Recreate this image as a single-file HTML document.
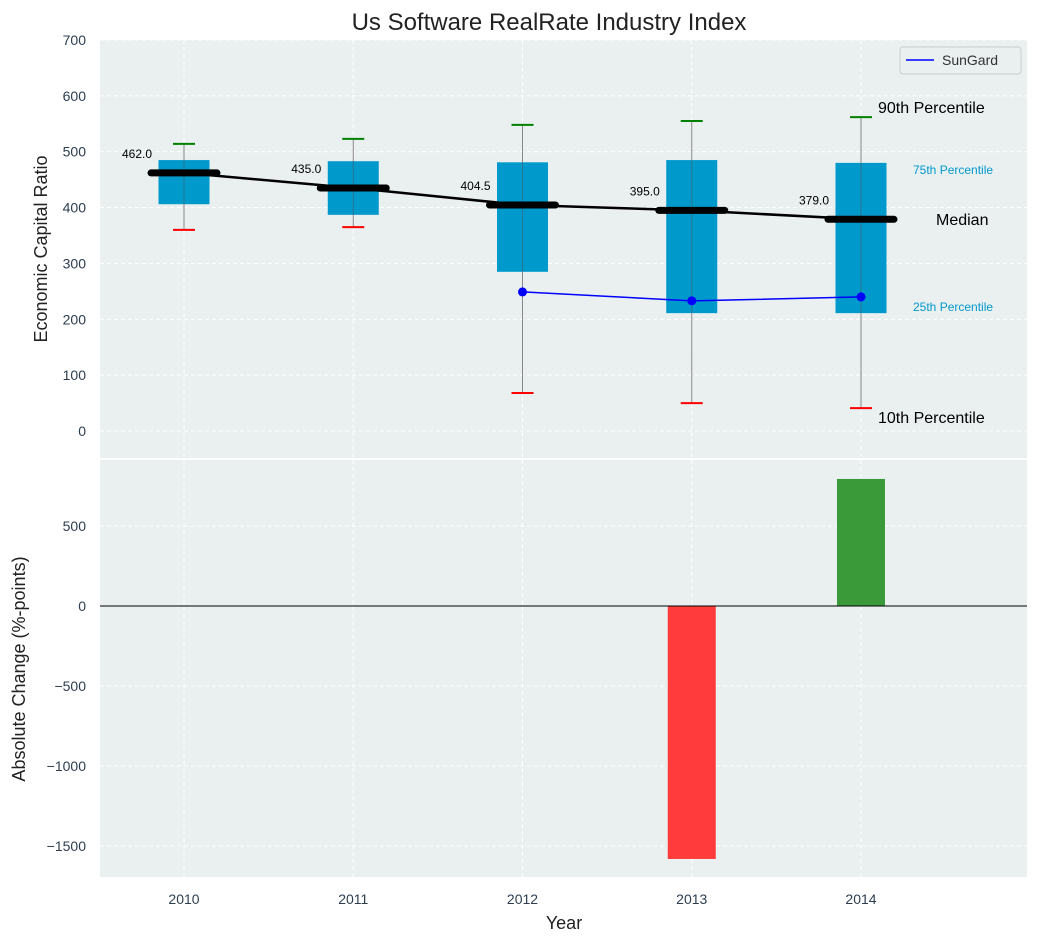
<!DOCTYPE html>
<html><head><meta charset="utf-8"><style>
body{margin:0;background:#fff;}
text{font-family:"Liberation Sans","DejaVu Sans",sans-serif;}
</style></head><body>
<svg id="chart" width="1039" height="942" xmlns="http://www.w3.org/2000/svg"></svg>
<script>
const years=[2010,2011,2012,2013,2014];
const p10=[360,365,68,50,41];
const q1=[406,387,285,211,211];
const medians=[462,435,404.5,395,379];
const q3=[485,483,481,485,480];
const p90=[514,523,548,555,562];
const sungardYears=[2012,2013,2014];
const sungard=[249,233,240];
const changeYears=[2013,2014];
const changes=[-1581,794];
const topTicks=[0,100,200,300,400,500,600,700];
const botTicks=[-1500,-1000,-500,0,500];

const svg=document.getElementById('chart');
const NS='http://www.w3.org/2000/svg';
function mk(t,a,txt,name){const e=document.createElementNS(NS,t);for(const k in a)e.setAttribute(k,a[k]);if(txt!==undefined)e.textContent=txt;


svg.appendChild(e);return e;}
const L=100,R=1027;
const TICK='#2c3e50';
const x=i=>184+(i)*169.25;
const xv=yr=>x(yr-2010);
const yT=v=>431-v*0.5586;
const yB=v=>606-v*0.16;
mk('text',{x:549,y:30,'text-anchor':'middle','font-size':24,fill:'#222'},'Us Software RealRate Industry Index','chart-title');
mk('rect',{x:L,y:40,width:R-L,height:418,fill:'#eaeff0'},undefined,'top-plot-bg');
mk('rect',{x:L,y:460,width:R-L,height:417,fill:'#eaeff0'},undefined,'bottom-plot-bg');
years.forEach((yr,i)=>{
 mk('line',{x1:x(i),x2:x(i),y1:40,y2:458,stroke:'#fff','stroke-dasharray':'4,3'},undefined,'top-x-grid');
 mk('line',{x1:x(i),x2:x(i),y1:460,y2:877,stroke:'#fff','stroke-dasharray':'4,3'},undefined,'bottom-x-grid');
 mk('text',{x:x(i),y:904,'text-anchor':'middle','font-size':14,fill:TICK},yr,'x-tick-label');
});
topTicks.forEach(v=>{
 mk('line',{x1:L,x2:R,y1:yT(v),y2:yT(v),stroke:'#fff','stroke-dasharray':'4,3'},undefined,'top-y-grid');
 mk('text',{x:86,y:yT(v)+5,'text-anchor':'end','font-size':14,fill:TICK},v,'top-y-tick-label');
});
botTicks.forEach(v=>{
 mk('line',{x1:L,x2:R,y1:yB(v),y2:yB(v),stroke:'#fff','stroke-dasharray':'4,3'},undefined,'bottom-y-grid');
 mk('text',{x:86,y:yB(v)+5,'text-anchor':'end','font-size':14,fill:TICK},String(v).replace('-','\u2212'),'bottom-y-tick-label');
});
years.forEach((yr,i)=>{
 const cx=x(i);
 mk('line',{x1:cx,x2:cx,y1:yT(p90[i]),y2:yT(p10[i]),stroke:'#888','stroke-width':1},undefined,'whisker');
 mk('rect',{x:cx-25.5,y:yT(q3[i]),width:51,height:yT(q1[i])-yT(q3[i]),fill:'#0099cc'},undefined,'iqr-box');
 mk('line',{x1:cx,x2:cx,y1:yT(q3[i]),y2:yT(q1[i]),stroke:'#555','stroke-width':1,opacity:0.5},undefined,'whisker-inner');
 mk('line',{x1:cx-11,x2:cx+11,y1:yT(p90[i]),y2:yT(p90[i]),stroke:'green','stroke-width':2},undefined,'p90-cap');
 mk('line',{x1:cx-11,x2:cx+11,y1:yT(p10[i]),y2:yT(p10[i]),stroke:'red','stroke-width':2},undefined,'p10-cap');
 mk('line',{x1:cx-33,x2:cx+33,y1:yT(medians[i]),y2:yT(medians[i]),stroke:'#000','stroke-width':7,'stroke-linecap':'round'},undefined,'median-bar');
 mk('text',{x:cx-32,y:yT(medians[i])-15,'text-anchor':'end','font-size':12,fill:'#000'},medians[i].toFixed(1),'median-label');
});
mk('polyline',{points:years.map((y,i)=>x(i)+','+yT(medians[i])).join(' '),fill:'none',stroke:'#000','stroke-width':2.5},undefined,'median-line');
mk('polyline',{points:sungardYears.map((y,i)=>xv(y)+','+yT(sungard[i])).join(' '),fill:'none',stroke:'blue','stroke-width':1.5},undefined,'sungard-line');
sungardYears.forEach((y,i)=>mk('circle',{cx:xv(y),cy:yT(sungard[i]),r:4.5,fill:'blue'},undefined,'sungard-point'));
mk('text',{x:878,y:113,'font-size':16,fill:'#000'},'90th Percentile','p90-annotation');
mk('text',{x:913,y:174,'font-size':12,fill:'#0099cc'},'75th Percentile','p75-annotation');
mk('text',{x:936,y:225,'font-size':16,fill:'#000'},'Median','median-annotation');
mk('text',{x:913,y:311,'font-size':12,fill:'#0099cc'},'25th Percentile','p25-annotation');
mk('text',{x:878,y:423,'font-size':16,fill:'#000'},'10th Percentile','p10-annotation');
mk('rect',{x:900,y:47,width:121,height:27,fill:'#eaeff0',stroke:'#ccc',rx:3},undefined,'legend-box');
mk('line',{x1:906,x2:934,y1:60,y2:60,stroke:'blue','stroke-width':1.5},undefined,'legend-line');
mk('text',{x:942,y:65,'font-size':14,fill:'#333'},'SunGard','legend-label');
changeYears.forEach((y,i)=>{const v=changes[i];
 mk('rect',{x:xv(y)-24,y:Math.min(yB(0),yB(v)),width:48,height:Math.abs(yB(v)-yB(0)),fill:v<0?'#ff3b3b':'#3a9a3a'},undefined,'change-bar');});
mk('line',{x1:L,x2:R,y1:yB(0),y2:yB(0),stroke:'#000','stroke-width':1},undefined,'zero-line');
mk('text',{x:47,y:249,'text-anchor':'middle','font-size':18,fill:'#222',transform:'rotate(-90 47 249)'},'Economic Capital Ratio','top-y-axis-title');
mk('text',{x:25,y:669,'text-anchor':'middle','font-size':18,fill:'#222',transform:'rotate(-90 25 669)'},'Absolute Change (%-points)','bottom-y-axis-title');
mk('text',{x:564,y:929,'text-anchor':'middle','font-size':18,fill:'#222'},'Year','x-axis-title');
</script>
</body></html>
